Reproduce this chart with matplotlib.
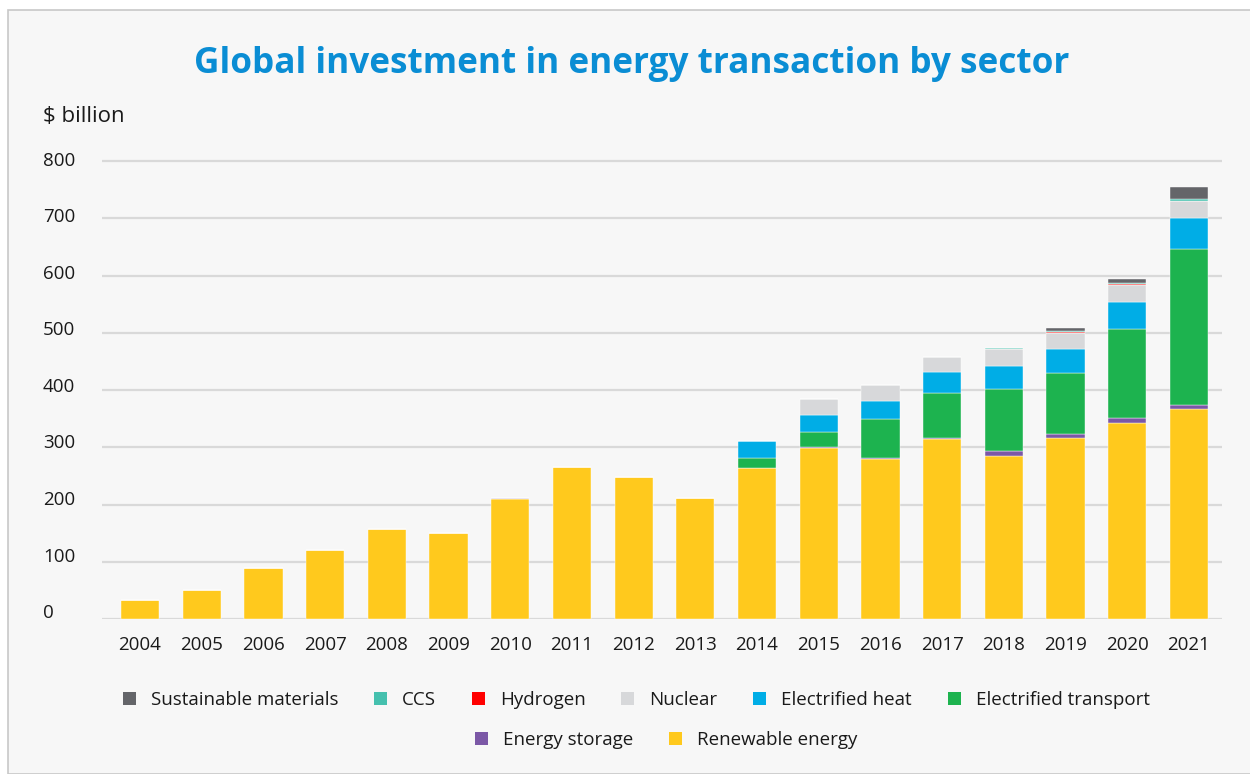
import matplotlib
matplotlib.use("Agg")
import matplotlib.pyplot as plt
from matplotlib.patches import Patch, Rectangle
import numpy as np

plt.rcParams['font.family'] = ['Open Sans', 'DejaVu Sans']

years = [str(y) for y in range(2004, 2022)]
renewable = [33, 50, 89, 120, 157, 150, 210, 265, 248, 211, 264, 298, 280, 314, 285, 317, 343, 366]
storage   = [0, 0, 0, 0, 0, 0, 1, 0, 0, 1, 0, 3, 2, 3, 8, 6, 8, 8]
transport = [0, 0, 0, 0, 0, 0, 0, 0, 0, 0, 18, 26, 67, 78, 108, 106, 155, 273]
heat      = [0, 0, 0, 0, 0, 0, 0, 0, 0, 0, 29, 29, 32, 37, 41, 43, 47, 53]
nuclear   = [0, 0, 0, 0, 0, 0, 0, 0, 0, 0, 0, 29, 27, 26, 29, 28, 30, 30]
hydrogen  = [0, 0, 0, 0, 0, 0, 0, 0, 0, 0, 0, 0, 0, 0, 0, 1.5, 1.5, 1]
ccs       = [0, 0, 0, 0, 0, 0, 0, 0, 0, 0, 0, 0, 0, 0, 2, 1, 2, 3]
sustain   = [0, 0, 0, 0, 0, 0, 0, 0, 0, 0, 0, 0, 0, 0, 0, 5, 7, 20]
yticks = [0, 100, 200, 300, 400, 500, 600, 700, 800]

series = [
    ("Renewable energy", renewable, "#ffc91d"),
    ("Energy storage", storage, "#7b58a6"),
    ("Electrified transport", transport, "#1db34f"),
    ("Electrified heat", heat, "#00ade6"),
    ("Nuclear", nuclear, "#d7d8da"),
    ("Hydrogen", hydrogen, "#ff0000"),
    ("CCS", ccs, "#45c0ae"),
    ("Sustainable materials", sustain, "#646569"),
]
colors = {n: c for n, _, c in series}

W, H = 1250, 774
fig = plt.figure(figsize=(W/100, H/100), dpi=100)
fig.patch.set_facecolor("white")
fig.add_artist(Rectangle((8/W, 0), 1 - 8/W + 0.01, 1 - 10/H, transform=fig.transFigure,
                         facecolor="#f7f7f7", edgecolor="#c8c8c8", lw=1.2, zorder=0))

ax = fig.add_axes([102/W, 1 - 619/H, (1222-102)/W, (619-155.3)/H])
ax.set_facecolor("none")
x = np.arange(len(years))
bottom = np.zeros(len(years))
for name, vals, col in series:
    v = np.array(vals, dtype=float)
    ax.bar(x, v, 0.62, bottom=bottom, color=col, edgecolor="white", linewidth=0.3, zorder=3)
    bottom += v

ax.set_xlim(-0.616, 17.535)
ax.set_ylim(0, 810)
ax.set_yticks(yticks)
ax.yaxis.grid(True, color="#d9d9d9", linewidth=1.6, zorder=0)
ax.set_axisbelow(True)
for s in ax.spines.values():
    s.set_visible(False)
ax.tick_params(axis='both', length=0, labelsize=13.5, labelcolor="#1a1a1a")
ax.set_xticks(x)
ax.set_xticklabels(years)
ax.tick_params(axis='x', pad=12)
ax.set_yticklabels([])
for t in yticks:
    ypix = 161 + (800 - t) / 800 * 452
    fig.text(43/W, 1 - ypix/H, str(t), fontsize=13.5, color="#1a1a1a", ha="left", va="center")

fig.text(0.505, 1 - 64/H, "Global investment in energy transaction by sector", ha="center", va="center",
         fontsize=25.3, fontweight="bold", color="#0a8dd4")
fig.text(43/W, 1 - 116/H, "$ billion", ha="left", va="center", fontsize=16, color="#1a1a1a")

row1 = ["Sustainable materials", "CCS", "Hydrogen", "Nuclear", "Electrified heat", "Electrified transport"]
row2 = ["Energy storage", "Renewable energy"]
for names, xc, yc in [(row1, 0.509, 1 - 700/H), (row2, 0.533, 1 - 740/H)]:
    handles = [Patch(facecolor=colors[n], edgecolor="none", label=n) for n in names]
    leg = fig.legend(handles=handles, loc="center", bbox_to_anchor=(xc, yc), ncol=len(names),
                     frameon=False, fontsize=13.5, handlelength=0.7, handleheight=0.7,
                     handletextpad=0.8, columnspacing=1.9)
    for t in leg.get_texts():
        t.set_color("#1a1a1a")

fig.savefig("out.png", dpi=100, facecolor=fig.get_facecolor())
